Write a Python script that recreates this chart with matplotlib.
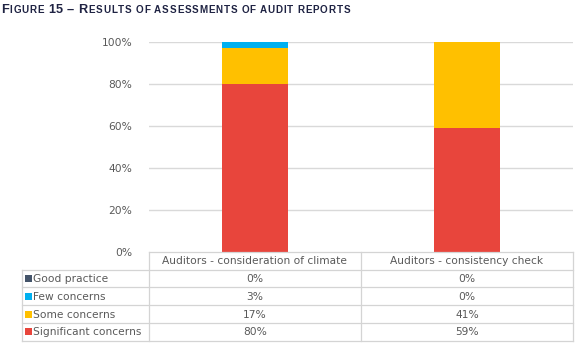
import matplotlib
matplotlib.use("Agg")
import matplotlib.pyplot as plt
from matplotlib.patches import Rectangle

# ---- data ----
categories = ["Auditors - consideration of climate", "Auditors - consistency check"]
series_names = ["Good practice", "Few concerns", "Some concerns", "Significant concerns"]
good_practice = [0, 0]
few_concerns = [3, 0]
some_concerns = [17, 41]
significant_concerns = [80, 59]
y_ticks = [0, 20, 40, 60, 80, 100]
y_tick_labels = ["0%", "20%", "40%", "60%", "80%", "100%"]

colors = {
    "Good practice": "#44546A",
    "Few concerns": "#00B0F0",
    "Some concerns": "#FFC000",
    "Significant concerns": "#E8453C",
}
values = {
    "Good practice": good_practice,
    "Few concerns": few_concerns,
    "Some concerns": some_concerns,
    "Significant concerns": significant_concerns,
}

W, H = 582, 348
DPI = 100
fig = plt.figure(figsize=(W / DPI, H / DPI), dpi=DPI)
fig.patch.set_facecolor("white")

text_color = "#595959"
grid_color = "#D9D9D9"
font = "DejaVu Sans"
fs = 7.7

# plot area in pixel coordinates
px_left, px_right = 149, 573
px_top, px_bottom = 42, 252
ax = fig.add_axes([px_left / W, 1 - px_bottom / H,
                   (px_right - px_left) / W, (px_bottom - px_top) / H])

x = list(range(len(categories)))
stack_order = ["Significant concerns", "Some concerns", "Few concerns", "Good practice"]
bottom = [0.0] * len(categories)
for name in stack_order:
    vals = values[name]
    ax.bar(x, vals, width=0.31, bottom=bottom, color=colors[name], zorder=3)
    bottom = [b + v for b, v in zip(bottom, vals)]

ax.set_xlim(-0.5, len(categories) - 0.5)
ax.set_ylim(0, 100)
ax.set_yticks(y_ticks)
ax.set_yticklabels(y_tick_labels, color=text_color, fontsize=fs, family=font)
ax.tick_params(axis="y", length=0, pad=12)
ax.set_xticks([])
for s in ax.spines.values():
    s.set_visible(False)
for t in y_ticks[1:]:
    ax.axhline(t, color=grid_color, lw=1.0, zorder=1)

# ---- data table below the plot (drawn on an overlay axes in pixel units) ----
ov = fig.add_axes([0, 0, 1, 1], facecolor="none")
ov.set_xlim(0, W)
ov.set_ylim(H, 0)
ov.axis("off")

label_left = 22
col_edges = [px_left, (px_left + px_right) / 2, px_right]
row_edges = [252, 269.5, 287.3, 305.3, 323.0, 340.7]
lc = "#D4D4D4"
lw = 0.9

# header row (category columns only)
ov.plot([col_edges[0], col_edges[-1]], [row_edges[0]] * 2, color=lc, lw=lw)
for r in row_edges[1:]:
    ov.plot([label_left, col_edges[-1]], [r, r], color=lc, lw=lw)
for c in col_edges:
    ov.plot([c, c], [row_edges[0], row_edges[-1]], color=lc, lw=lw)
ov.plot([label_left, label_left], [row_edges[1], row_edges[-1]], color=lc, lw=lw)

for j, cat in enumerate(categories):
    cx = (col_edges[j] + col_edges[j + 1]) / 2
    ov.text(cx, (row_edges[0] + row_edges[1]) / 2 + 0.5, cat, ha="center", va="center",
            fontsize=fs, color=text_color, family=font)

for i, name in enumerate(series_names):
    cy = (row_edges[i + 1] + row_edges[i + 2]) / 2
    ov.add_patch(Rectangle((24.5, cy - 3.5), 7, 7, color=colors[name], lw=0))
    ov.text(33, cy + 0.5, name, ha="left", va="center", fontsize=fs,
            color=text_color, family=font)
    for j in range(len(categories)):
        cx = (col_edges[j] + col_edges[j + 1]) / 2
        ov.text(cx, cy + 0.5, f"{values[name][j]}%", ha="center", va="center",
                fontsize=fs, color=text_color, family=font)

# ---- small-caps title, drawn letter by letter with a little tracking ----
title = "Figure 15 – Results of assessments of audit reports"
title_color = "#1F2343"
renderer = fig.canvas.get_renderer()
big, small = 9.2, 7.1
tracking = 0.85
space_w = 3.2
xpos = 1.0
ybase = 13.0
for ch in title:
    if ch == " ":
        xpos += space_w
        continue
    is_big = ch.isupper() or ch.isdigit() or ch == "–"
    size = big if is_big else small
    t = ov.text(xpos, ybase, ch.upper(), ha="left", va="baseline", fontsize=size,
                fontweight="bold", color=title_color, family="Liberation Sans")
    xpos += t.get_window_extent(renderer=renderer).width + tracking

fig.savefig("out.png", dpi=DPI, facecolor="white")
